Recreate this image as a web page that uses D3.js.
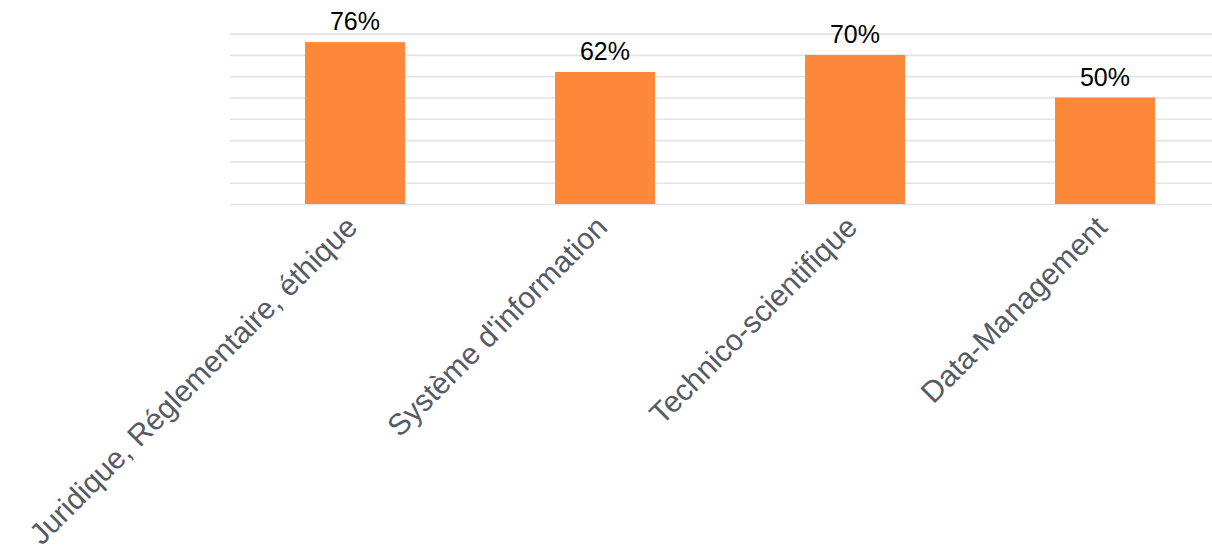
<!DOCTYPE html>
<meta charset="utf-8">
<style>
    body { margin: 0; background: #fff; }
    .grid line { stroke: #e3e3e9; stroke-width: 1.6px; }
    .grid .domain { display: none; }
    .value { font: 25px "Liberation Sans", Arial, sans-serif; fill: #000; }
    .cat { font: 30px "Liberation Sans", Arial, sans-serif; fill: #545b66; }
</style>
<body>
<div id="chart"></div>

<script src="https://cdnjs.cloudflare.com/ajax/libs/d3/7.8.5/d3.min.js"></script>
<script>
    var categories = ["Juridique, Réglementaire, éthique", "Système d'information", "Technico-scientifique", "Data-Management"];
    var values = [0.76, 0.62, 0.70, 0.50];
    var gridTicks = [0, 0.1, 0.2, 0.3, 0.4, 0.5, 0.6, 0.7, 0.8];

    var width = 1212,
        height = 556

    var svg = d3.select('#chart').append("svg")
        .attr("width", width)
        .attr("height", height);

    var x = d3.scaleBand()
        .domain(categories)
        .range([230, 1230])
        .paddingInner(0.6)
        .paddingOuter(0.3);

    var y = d3.scaleLinear()
        .domain([0, 0.8])
        .range([204, 33.6]);

    // gridlines, no tick labels
    svg.append("g")
        .attr("class", "grid")
        .attr("transform", "translate(230,0)")
        .call(d3.axisRight(y).tickValues(gridTicks).tickSize(1000).tickFormat(""));

    svg.selectAll(".bar")
        .data(categories)
        .enter().append("rect")
        .attr("class", "bar")
        .attr("x", function (d) { return x(d); })
        .attr("width", x.bandwidth())
        .attr("y", function (d, i) { return y(values[i]); })
        .attr("height", function (d, i) { return y(0) - y(values[i]); })
        .attr("fill", "#fd883a");

    svg.selectAll(".value")
        .data(categories)
        .enter().append("text")
        .attr("class", "value")
        .attr("text-anchor", "middle")
        .attr("x", function (d) { return x(d) + x.bandwidth() / 2; })
        .attr("y", function (d, i) { return y(values[i]) - 12; })
        .text(function (d, i) { return Math.round(values[i] * 100) + "%"; });

    svg.selectAll(".cat")
        .data(categories)
        .enter().append("text")
        .attr("class", "cat")
        .attr("text-anchor", "end")
        .attr("transform", function (d) {
            return "translate(" + (x(d) + x.bandwidth() / 2 + 4) + ",229) rotate(-45)";
        })
        .text(function (d) { return d; });
</script>
